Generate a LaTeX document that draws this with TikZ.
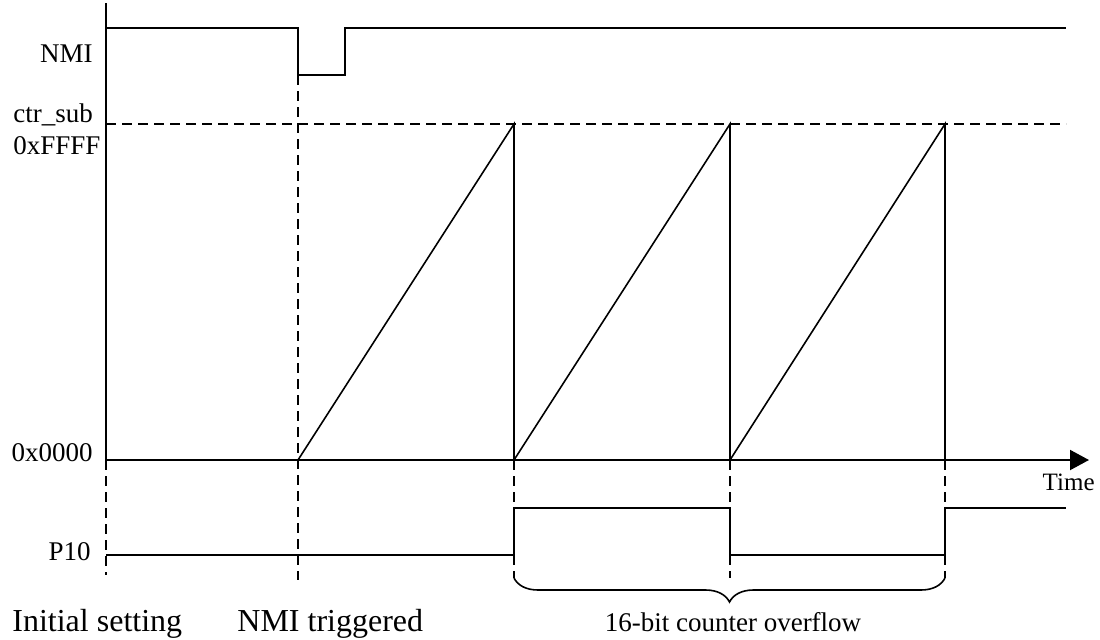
\documentclass[tikz,border=0pt]{standalone}
\usepackage{fontspec}
\setmainfont{Liberation Serif}
\usetikzlibrary{positioning, calc, arrows.meta, decorations.pathreplacing}
\tikzstyle{Axis} = [
    line width = 1pt,
    -{Triangle[length=9.5pt, width=10pt]}
]

\begin{document}
\begin{tikzpicture}[
x = 0.5pt, y = -0.5pt,
signal/.style = {line width = 1pt},
ramp/.style = {line width = 0.8pt},
guide/.style = {line width = 1pt, dash pattern = on 5pt off 3pt},
lbl/.style = {inner sep = 0pt, font = \fontsize{13.5}{16}\selectfont},
event/.style = {inner sep = 0pt, font = \fontsize{16}{19}\selectfont}
]
\useasboundingbox (0,0) rectangle (1100,639);

\coordinate (nmihi) at (106,28);
\coordinate (nmilo) at (106,75);
\coordinate (top) at (106,124);
\coordinate (t0) at (106,460);
\coordinate (hi) at (106,508);
\coordinate (lo) at (106,555);
\coordinate (t1) at (298,460);
\coordinate (t2) at (345,460);
\coordinate (o1) at (514,460);
\coordinate (o2) at (730,460);
\coordinate (o3) at (945,460);
\coordinate (end) at (1066,460);
\coordinate (tip) at (1089,460);

\node [lbl, anchor = base east] (nmi) at (93,62) {NMI};
\node [lbl, anchor = base west] (ctr) at (13,122) {ctr\_sub};
\node [lbl, anchor = base west] (ffff) at (13,154) {0xFFFF};
\node [lbl, anchor = base east] (zero) at (93,461) {0x0000};
\node [lbl, anchor = base east] (p10) at (91,560) {P10};
\node [lbl, font = \fontsize{12.5}{15}\selectfont, anchor = base east] (time) at (1095,490) {Time};
\node [event, anchor = base west] (init) at (12,631) {Initial setting};
\node [event, anchor = base west] (trig) at (237,631) {NMI triggered};
\node [lbl, anchor = base] (ovf) at (733,631) {16-bit counter overflow};

\draw[signal] (106,3) -- (t0);
\draw[Axis] (t0) -- (tip);

\draw[signal] (nmihi) -- (t1 |- nmihi) -- (t1 |- nmilo) -- (t2 |- nmilo) -- (t2 |- nmihi) -- (end |- nmihi);
\draw[guide] (top) -- (end |- top);

\draw[ramp] (t1) -- (o1 |- top) -- (o1);
\draw[ramp] (o1) -- (o2 |- top) -- (o2);
\draw[ramp] (o2) -- (o3 |- top) -- (o3);

\draw[signal] (lo) -- (o1 |- lo) -- (o1 |- hi) -- (o2 |- hi) -- (o2 |- lo) -- (o3 |- lo) -- (o3 |- hi) -- (end |- hi);

\draw[guide] (t0) -- ++(0,115);
\draw[guide] (t1 |- nmilo) -- ++(0,505);
\foreach \t in {o1, o2, o3} {
    \draw[guide] (\t) -- (\t |- hi);
    \draw[guide] (\t |- lo) -- ++(0,23);
}

\draw[line width = 0.8pt, decorate, decoration = {brace, mirror, amplitude = 12pt}] (514,578) -- (945,578);

\end{tikzpicture}
\end{document}
